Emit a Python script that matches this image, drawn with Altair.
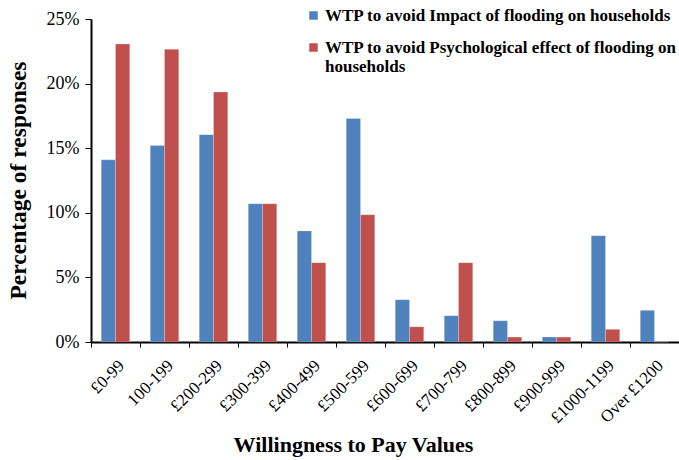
import altair as alt
import pandas as pd

# Willingness-to-pay bands
categories = ["£0-99", "100-199", "£200-299", "£300-399", "£400-499", "£500-599",
              "£600-699", "£700-799", "£800-899", "£900-999", "£1000-1199", "Over £1200"]

series = ["WTP to avoid Impact of flooding on households",
          "WTP to avoid Psychological effect of flooding on households"]

# Percentage of responses per band
impact = [14.1, 15.2, 16.05, 10.7, 8.6, 17.3, 3.27, 2.03, 1.64, 0.38, 8.23, 2.45]
psychological = [23.06, 22.65, 19.35, 10.7, 6.14, 9.85, 1.18, 6.14, 0.38, 0.38, 0.98, 0.0]

colors = ["#4F81BD", "#C0504D"]

rows = []
for name, vals in zip(series, [impact, psychological]):
    for cat, v in zip(categories, vals):
        rows.append({"band": cat, "series": name, "pct": v / 100.0})
df = pd.DataFrame(rows)

FONT = "Liberation Serif, Times New Roman, serif"

# the long series name wraps onto a second line in the legend
legend_label = (
    "datum.label == '" + series[1] + "' ? "
    "['WTP to avoid Psychological effect of flooding on', 'households'] : datum.label"
)

chart = alt.Chart(df).mark_bar(stroke="white", strokeOpacity=0.35, strokeWidth=0.6).encode(
    x=alt.X("band:N", sort=categories,
            scale=alt.Scale(paddingInner=0, paddingOuter=0),
            axis=alt.Axis(title="Willingness to Pay Values", labelAngle=-45,
                          labelFont=FONT, labelFontSize=17, labelColor="black",
                          labelPadding=10, tickBand="extent", tickSize=5,
                          tickColor="black", domainColor="black", domainWidth=2,
                          titleFont=FONT, titleFontSize=22, titleFontWeight="bold",
                          titleColor="black", titleX=262, titleY=102,
                          titleBaseline="middle")),
    xOffset=alt.XOffset("series:N", sort=series,
                        scale=alt.Scale(paddingInner=0, paddingOuter=0.72)),
    y=alt.Y("pct:Q", scale=alt.Scale(domain=[0, 0.25]),
            axis=alt.Axis(title="Percentage of responses", format=".0%",
                          values=[0, 0.05, 0.10, 0.15, 0.20, 0.25],
                          grid=False, labelFont=FONT, labelFontSize=18,
                          labelColor="black", labelPadding=6, tickSize=6,
                          tickColor="black", domainColor="black", domainWidth=2,
                          titleFont=FONT, titleFontSize=23.5, titleFontWeight="bold",
                          titleColor="black", titleX=-73, titleY=161,
                          titleBaseline="middle")),
    color=alt.Color("series:N", sort=series,
                    scale=alt.Scale(domain=series, range=colors),
                    legend=alt.Legend(title=None, orient="none", legendX=214, legendY=-12,
                                      symbolType="square", symbolSize=72,
                                      symbolStrokeWidth=0, labelFont=FONT,
                                      labelFontSize=17, labelFontWeight="bold",
                                      labelColor="black", labelLimit=500,
                                      labelExpr=legend_label, rowPadding=14,
                                      symbolOffset=0, labelOffset=3)),
).properties(
    width=588, height=323,
    autosize=alt.AutoSizeParams(type="none"),
    padding={"left": 91, "top": 19, "right": 0, "bottom": 118},
).configure_view(stroke=None)

chart.save("out.html", embed_options={"renderer": "svg", "actions": False})
